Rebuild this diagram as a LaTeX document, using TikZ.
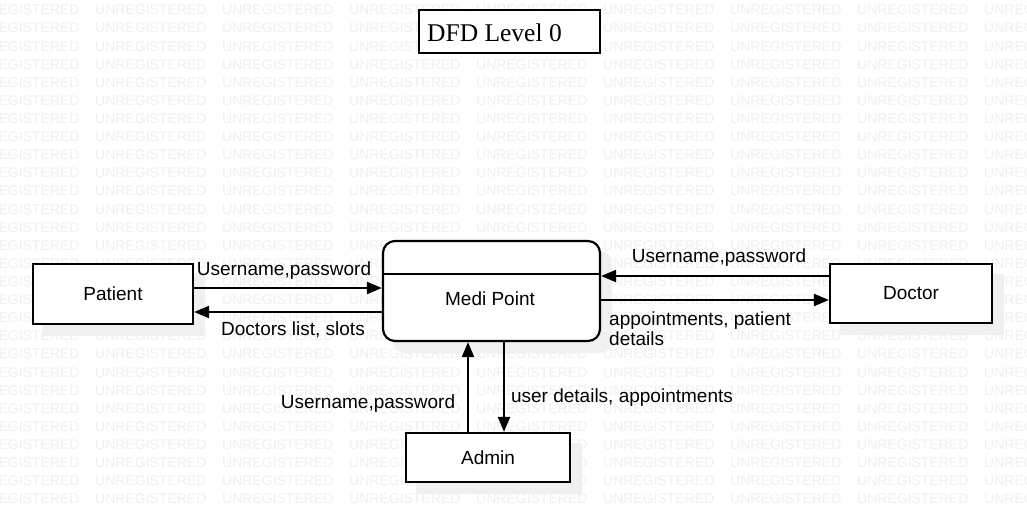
\documentclass[tikz,border=0pt]{standalone}
\usepackage{fontspec}
\setmainfont{Liberation Sans}
\newfontfamily\titleserif{Liberation Serif}
\usetikzlibrary{arrows.meta}
\pgfdeclarelayer{shadowlayer}
\pgfdeclarelayer{wmlayer}
\pgfsetlayers{shadowlayer,wmlayer,main}
\begin{document}
\begin{tikzpicture}[x=1pt,y=-1pt,
  wm/.style={text=black!6, font=\fontsize{14}{14}\selectfont, anchor=west, inner sep=0pt},
  shade/.style={fill=black!6, draw=none},
  entbox/.style={draw, line width=2.2pt, fill=white, inner sep=0pt, font=\fontsize{19}{20}\selectfont},
  procbox/.style={entbox, rounded corners=12pt},
  titlebox/.style={draw, line width=2.2pt, fill=white, inner sep=0pt},
  lbl/.style={inner sep=0pt, font=\fontsize{19}{20}\selectfont},
  arr/.style={line width=2.2pt, -{Triangle[length=15pt,width=12pt]}}
]
\useasboundingbox (0,0) rectangle (1027,514);

% nodes
\node[titlebox, minimum width=181pt, minimum height=43pt] (title) at (509.5,31.5) {};
\node[anchor=west, inner sep=0pt, font=\titleserif\fontsize{25.5}{27}\selectfont] (titletext) at (427,33) {DFD Level 0};

\node[entbox, minimum width=160pt, minimum height=60pt] (patient) at (113,294) {Patient};
\node[entbox, minimum width=162pt, minimum height=59pt] (doctor) at (911,293.5) {Doctor};
\node[entbox, minimum width=164pt, minimum height=49pt] (admin) at (488,457.5) {Admin};
\node[procbox, minimum width=217pt, minimum height=100pt] (medi) at (491.5,291) {};
\draw[line width=2.2pt] (medi.west |- 0,274) -- (medi.east |- 0,274);
\node[lbl] (meditext) at (490,299) {Medi Point};

% background and shadows
\begin{pgfonlayer}{shadowlayer}
  \fill[white] (0,0) rectangle (1027,514);
  \foreach \n in {patient,doctor,admin}{
    \fill[shade] ([shift={(11,11)}]\n.north west) rectangle ([shift={(11,11)}]\n.south east);
  }
  \fill[shade, rounded corners=12pt] ([shift={(11,11)}]medi.north west) rectangle ([shift={(11,11)}]medi.south east);
\end{pgfonlayer}

% watermark
\begin{pgfonlayer}{wmlayer}
  \foreach \i in {0,...,27}{
    \foreach \j in {0,...,8}{
      \node[wm] at (-32+127*\j, 10+18.11*\i) {UNREGISTERED};
    }
  }
\end{pgfonlayer}

% connectors
\draw[arr] (patient.east |- 0,288) -- (medi.west |- 0,288);
\draw[arr] (medi.west |- 0,312) -- (patient.east |- 0,312);
\draw[arr] (doctor.west |- 0,276) -- (medi.east |- 0,276);
\draw[arr] (medi.east |- 0,300) -- (doctor.west |- 0,300);
\draw[arr] (admin.north -| 468,0) -- (medi.south -| 468,0);
\draw[arr] (medi.south -| 504,0) -- (admin.north -| 504,0);

% labels
\node[lbl] (l1) at (284,271) {Username,password};
\node[lbl] (l2) at (293,330) {Doctors list, slots};
\node[lbl] (l3) at (719,258) {Username,password};
\node[lbl, anchor=west, align=left] (l4) at (609,329) {appointments, patient\\details};
\node[lbl] (l5) at (368,404) {Username,password};
\node[lbl] (l6) at (622,398) {user details, appointments};
\end{tikzpicture}
\end{document}
